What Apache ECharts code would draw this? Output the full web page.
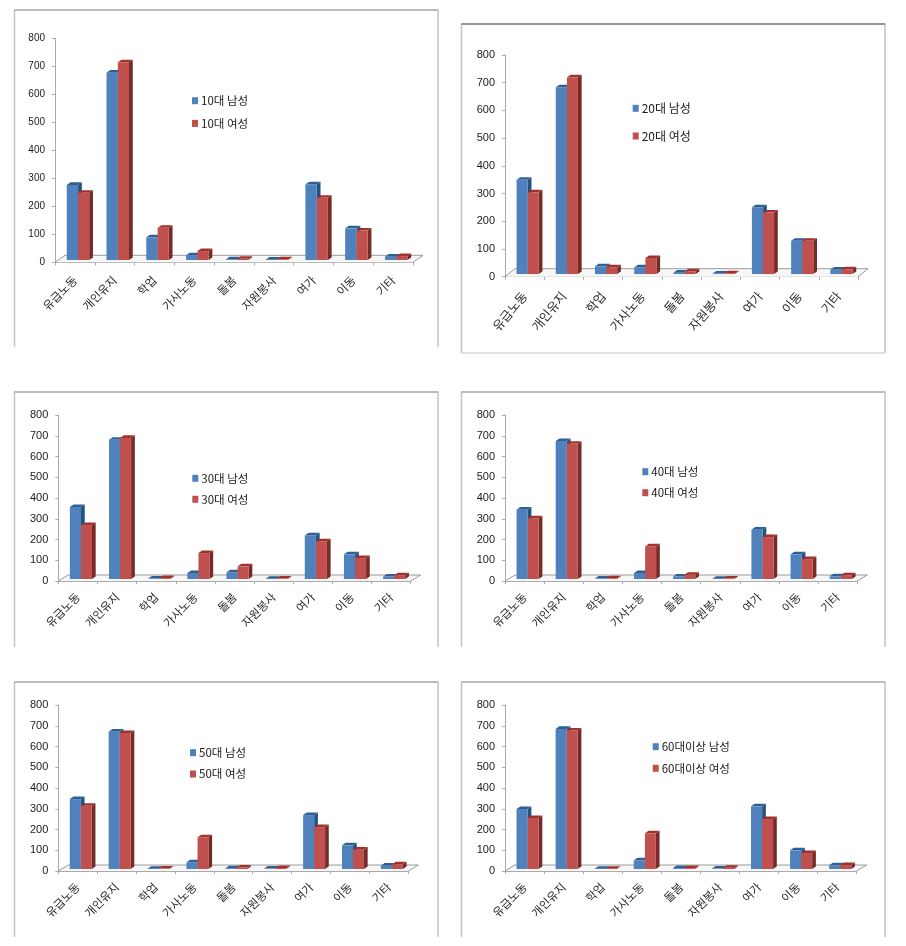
<!DOCTYPE html>
<html>
<head>
<meta charset="utf-8">
<script src="https://cdn.jsdelivr.net/npm/echarts@6/dist/echarts.min.js"></script>
<style>html,body{margin:0;padding:0;background:#fff}#c{width:906px;height:946px}</style>
</head>
<body>
<div id="c"></div>
<script>
const categories = ['유급노동','개인유지','학업','가사노동','돌봄','자원봉사','여가','이동','기타'];
const valueTicks = { min: 0, max: 800, interval: 100 };

const male10   = [268, 669, 81, 17, 2, 1, 270, 113, 12];
const female10 = [240, 706, 115, 32, 4, 2, 222, 105, 14];
const male20   = [340, 674, 28, 24, 5, 2, 241, 120, 16];
const female20 = [295, 710, 24, 58, 10, 3, 222, 120, 17];
const male30   = [347, 671, 2, 29, 32, 1, 210, 119, 12];
const female30 = [260, 680, 4, 125, 61, 2, 182, 101, 18];
const male40   = [334, 665, 2, 29, 12, 1, 238, 119, 13];
const female40 = [292, 652, 3, 157, 20, 2, 202, 96, 18];
const male50   = [337, 662, 1, 32, 3, 2, 260, 114, 16];
const female50 = [305, 655, 2, 153, 7, 5, 202, 93, 22];
const male60   = [289, 675, 1, 42, 4, 2, 302, 90, 18];
const female60 = [246, 667, 1, 172, 4, 6, 241, 77, 19];

const panels = [
  { m:'10대 남성', f:'10대 여성', mv:male10, fv:female10, x0:55, x1:413, top:38.3, y0:262.3, dx:10, dy:7, frame:[14.5,10,438,347], topC:'#b4b4b4', bottom:false, lx:192, ly:100.7, gap:22.7, num:10, cat:11.5, rot:45, lf:11.5, lm:16 },
  { m:'20대 남성', f:'20대 여성', mv:male20, fv:female20, x0:505, x1:858, top:55, y0:276.7, dx:10, dy:8, frame:[461.5,24,885,353], topC:'#808080', bottom:true, lx:632.7, ly:108.3, gap:27.7, num:11, cat:12.5, rot:50, lf:12, lm:17 },
  { m:'30대 남성', f:'30대 여성', mv:male30, fv:female30, x0:58.3, x1:410.7, top:415, y0:581, dx:10, dy:6, frame:[14.5,392,438,647], topC:'#b4b4b4', bottom:false, lx:192.3, ly:478.3, gap:21, num:11, cat:11.5, rot:45, lf:11.5, lm:14 },
  { m:'40대 남성', f:'40대 여성', mv:male40, fv:female40, x0:505, x1:857.3, top:415, y0:581, dx:10, dy:6, frame:[461.5,392,885,647], topC:'#b4b4b4', bottom:false, lx:642.3, ly:471.7, gap:21, num:11, cat:11.5, rot:45, lf:11.5, lm:14 },
  { m:'50대 남성', f:'50대 여성', mv:male50, fv:female50, x0:58.3, x1:408.3, top:705, y0:871, dx:10, dy:6, frame:[14.5,682,438,937], topC:'#b4b4b4', bottom:false, lx:190, ly:752.7, gap:21.3, num:11, cat:11.5, rot:45, lf:11.5, lm:14 },
  { m:'60대이상 남성', f:'60대이상 여성', mv:male60, fv:female60, x0:505, x1:856.7, top:705, y0:871, dx:10, dy:6, frame:[461.5,682,885,937], topC:'#b4b4b4', bottom:false, lx:652.7, ly:746.7, gap:21.6, num:11, cat:11.5, rot:45, lf:11.5, lm:14 }
];

const BLUE = { front:'#4f81bd', top:'#2d6196', side:'#24527f' };
const RED  = { front:'#c0504d', top:'#a2302d', side:'#772b29' };
const GRAY = '#aaaaaa';

function barRenderer(slot, pal, p) {
  return function (params, api) {
    const i = api.value(0), v = api.value(1);
    const cw = api.size([1, 0])[0];
    const base = api.coord([i, 0]);
    const head = api.coord([i, v]);
    const lift = p.dy * 0.33;
    const lo = base[0] - cw / 2;
    const xa = lo + cw * (slot === 0 ? 0.295 : 0.58);
    const xb = lo + cw * (slot === 0 ? 0.58 : 0.86);
    const yb = base[1] - lift, yt = head[1] - lift;
    const ddx = cw * 0.095, ddy = 2.6;
    return { type:'group', children:[
      { type:'polygon', shape:{ points:[[xb,yb],[xb,yt],[xb+ddx,yt-ddy],[xb+ddx,yb-ddy]] }, style:{ fill:pal.side } },
      { type:'polygon', shape:{ points:[[xa,yt],[xb,yt],[xb+ddx,yt-ddy],[xa+ddx,yt-ddy]] }, style:{ fill:pal.top } },
      { type:'rect', shape:{ x:xa, y:yt, width:xb-xa, height:yb-yt }, style:{ fill:pal.front } }
    ]};
  };
}

function floorRenderer(p) {
  return function (params) {
    const c = params.coordSys;
    const xl = c.x, xr = c.x + c.width, yb = c.y + c.height;
    return { type:'group', children:[
      { type:'polyline', shape:{ points:[[xl,yb],[xl+p.dx,yb-p.dy],[xr+p.dx,yb-p.dy],[xr,yb]] }, style:{ fill:'#f7f7f7', stroke:'#9a9a9a', lineWidth:1 } }
    ]};
  };
}

const grids = [], xAxes = [], yAxes = [], series = [], legends = [], graphics = [];
panels.forEach((p, k) => {
  grids.push({ left:p.x0, top:p.top, width:p.x1-p.x0, height:p.y0-p.top, containLabel:false });
  xAxes.push({ type:'category', gridIndex:k, data:categories,
    axisLine:{ lineStyle:{ color:GRAY, width:1 } },
    axisTick:{ show:true, length:3, alignWithLabel:false, lineStyle:{ color:GRAY } },
    splitLine:{ show:false },
    axisLabel:{ interval:0, rotate:p.rot, margin:p.lm, fontSize:p.cat, color:'#2a2a2a', fontFamily:'"Noto Sans CJK KR"' } });
  yAxes.push({ type:'value', gridIndex:k, min:valueTicks.min, max:valueTicks.max, interval:valueTicks.interval,
    axisLine:{ show:true, lineStyle:{ color:GRAY, width:1 } },
    axisTick:{ show:true, length:3, lineStyle:{ color:GRAY } },
    splitLine:{ show:false },
    axisLabel:{ margin:10, fontSize:p.num, color:'#1a1a1a', fontFamily:'"Liberation Sans"' } });
  series.push({ type:'custom', xAxisIndex:k, yAxisIndex:k, data:[0], renderItem:floorRenderer(p), silent:true, z:1, tooltip:{show:false} });
  series.push({ type:'custom', name:p.m, xAxisIndex:k, yAxisIndex:k, z:2, itemStyle:{ color:BLUE.front },
    data:p.mv.map((v,i)=>[i,v]), encode:{x:0,y:1}, renderItem:barRenderer(0,BLUE,p) });
  series.push({ type:'custom', name:p.f, xAxisIndex:k, yAxisIndex:k, z:3, itemStyle:{ color:RED.front },
    data:p.fv.map((v,i)=>[i,v]), encode:{x:0,y:1}, renderItem:barRenderer(1,RED,p) });
  legends.push({ data:[p.m,p.f], orient:'vertical', left:p.lx, top:p.ly-6.5, padding:0, itemWidth:6, itemHeight:7, itemGap:p.gap-13, icon:'rect',
    selectedMode:false, textStyle:{ fontSize:p.lf, lineHeight:13, color:'#1a1a1a', fontFamily:'"Noto Sans CJK KR"', padding:[0,0,0,-2] } });
  const [l,t,r,b] = p.frame;
  graphics.push({ type:'polyline', silent:true, shape:{ points:[[l,b],[l,t],[r,t],[r,b]] }, style:{ fill:null, stroke:'#c4c4c4', lineWidth:1.5 } });
  graphics.push({ type:'line', silent:true, shape:{ x1:l,y1:t,x2:r,y2:t }, style:{ stroke:p.topC, lineWidth:1.5 } });
  if (p.bottom) graphics.push({ type:'line', silent:true, shape:{ x1:l,y1:b,x2:r,y2:b }, style:{ stroke:'#d8d8d8', lineWidth:1.5 } });
});

const chart = echarts.init(document.getElementById('c'), null, { renderer:'canvas' });
chart.setOption({ animation:false, backgroundColor:'#fff', grid:grids, xAxis:xAxes, yAxis:yAxes, series:series, legend:legends, graphic:graphics });
</script>
</body>
</html>
